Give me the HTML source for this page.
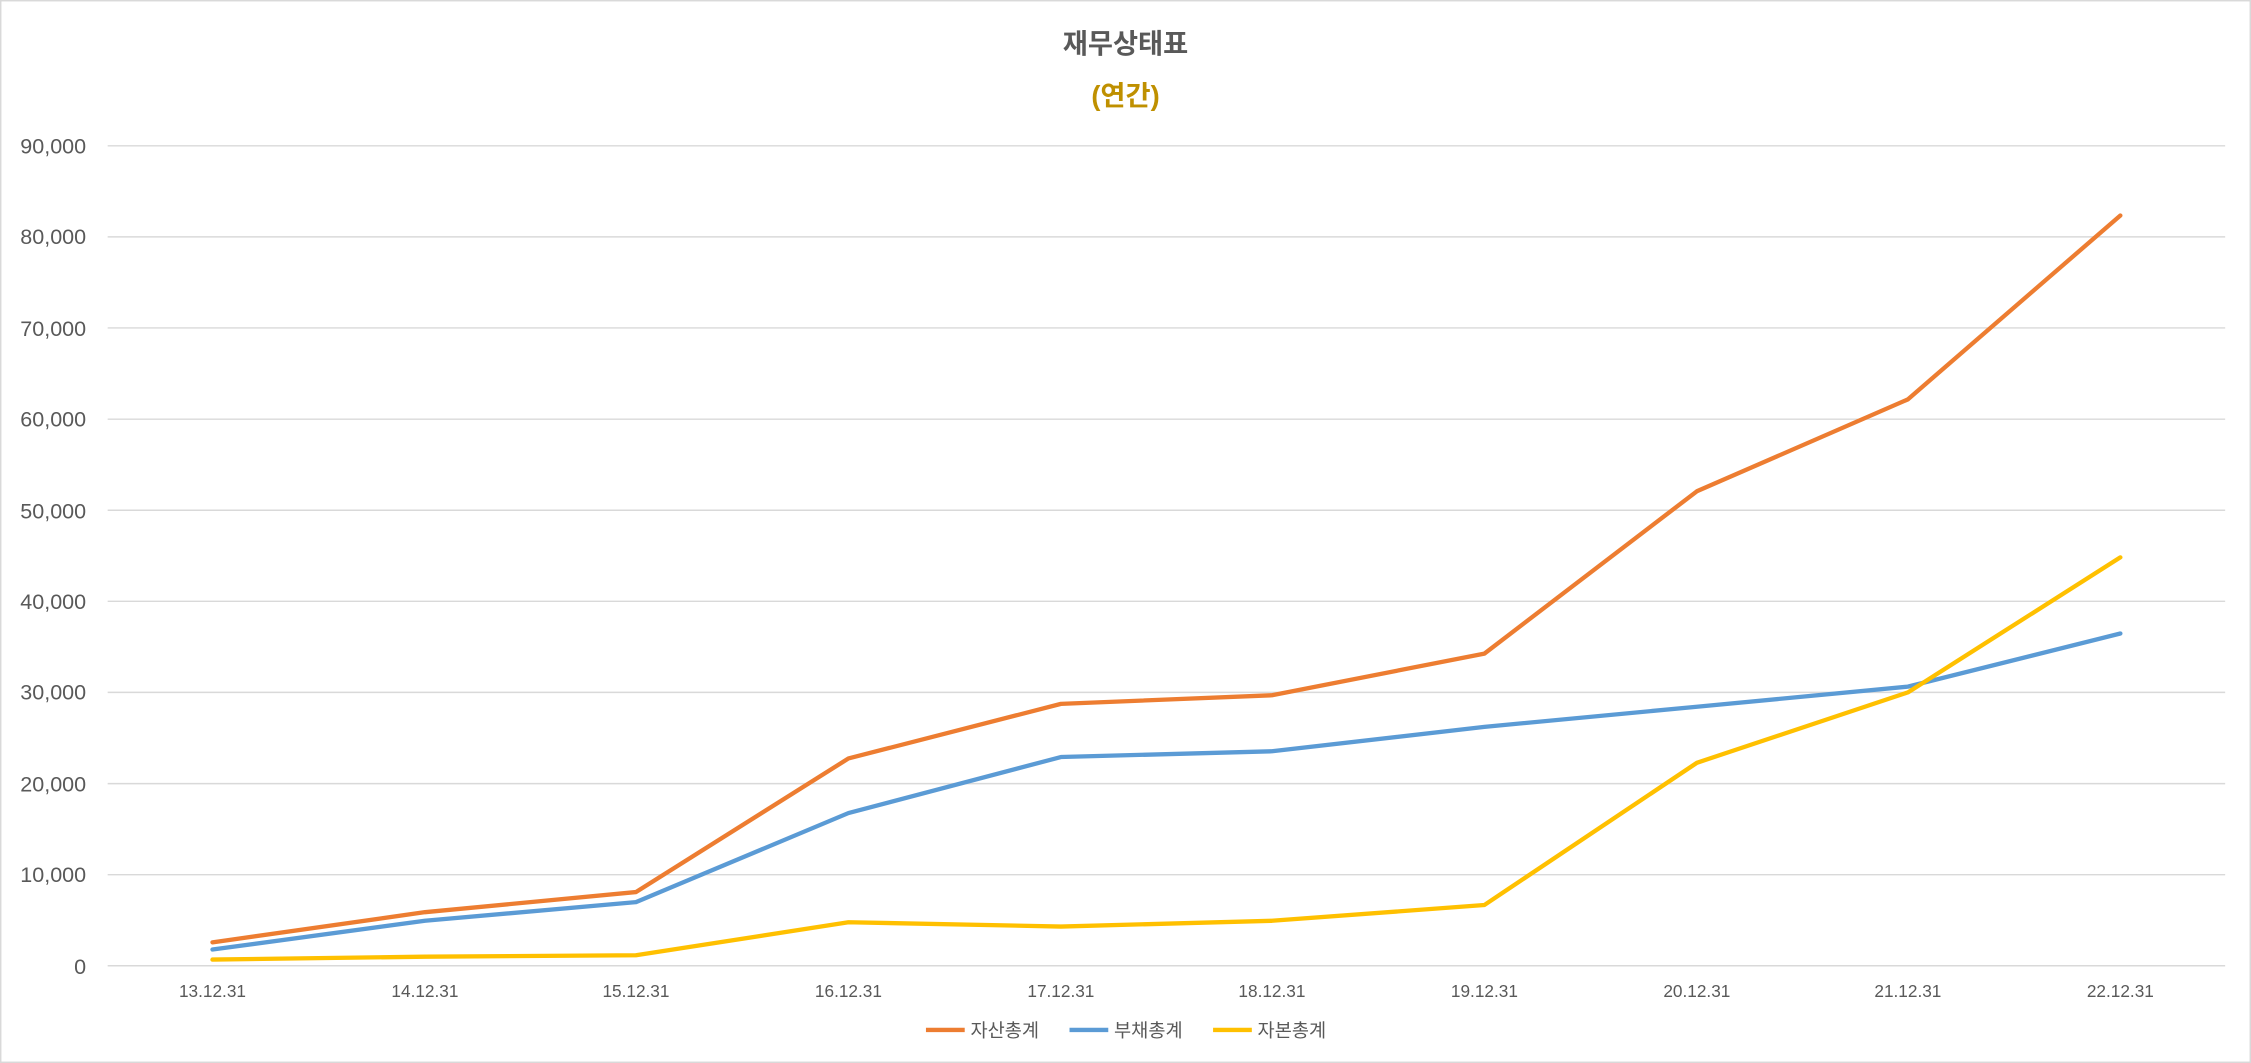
<!DOCTYPE html>
<html><head><meta charset="utf-8"><style>
html,body{margin:0;padding:0;background:#fff;}
svg{display:block;}
text{font-family:"Liberation Sans","Noto Sans CJK KR",sans-serif;}
</style></head><body>
<svg width="2251" height="1063" viewBox="0 0 1568 740" preserveAspectRatio="none" xmlns="http://www.w3.org/2000/svg">
<rect x="0.5" y="0.5" width="1567" height="739" fill="#fff" stroke="#d9d9d9"/>
<text x="784" y="37" text-anchor="middle" font-size="19" font-weight="bold" fill="#595959">재무상태표</text>
<text x="784" y="73" text-anchor="middle" font-size="19" font-weight="bold" fill="#bf9000">(연간)</text>
<g stroke="#d9d9d9" stroke-width="1">
<line x1="75" x2="1550" y1="101.5" y2="101.5"/>
<line x1="75" x2="1550" y1="164.9" y2="164.9"/>
<line x1="75" x2="1550" y1="228.3" y2="228.3"/>
<line x1="75" x2="1550" y1="291.8" y2="291.8"/>
<line x1="75" x2="1550" y1="355.2" y2="355.2"/>
<line x1="75" x2="1550" y1="418.6" y2="418.6"/>
<line x1="75" x2="1550" y1="482" y2="482"/>
<line x1="75" x2="1550" y1="545.5" y2="545.5"/>
<line x1="75" x2="1550" y1="608.9" y2="608.9"/>
<line x1="75" x2="1550" y1="672.3" y2="672.3"/>
</g>
<g font-size="15" fill="#595959" text-anchor="end">
<text x="60" y="107">90,000</text>
<text x="60" y="170">80,000</text>
<text x="60" y="234">70,000</text>
<text x="60" y="297">60,000</text>
<text x="60" y="361">50,000</text>
<text x="60" y="424">40,000</text>
<text x="60" y="487">30,000</text>
<text x="60" y="551">20,000</text>
<text x="60" y="614">10,000</text>
<text x="60" y="678">0</text>
</g>
<g font-size="12" fill="#595959" text-anchor="middle">
<text x="148" y="694">13.12.31</text>
<text x="296" y="694">14.12.31</text>
<text x="443" y="694">15.12.31</text>
<text x="591" y="694">16.12.31</text>
<text x="739" y="694">17.12.31</text>
<text x="886" y="694">18.12.31</text>
<text x="1034" y="694">19.12.31</text>
<text x="1182" y="694">20.12.31</text>
<text x="1329" y="694">21.12.31</text>
<text x="1477" y="694">22.12.31</text>
</g>
<g fill="none" stroke-width="3" stroke-linejoin="round" stroke-linecap="round">
<polyline stroke="#ed7d31" points="148,656 296,635 443,621 591,528 739,490 886,484 1034,455 1182,342 1329,278 1477,150"/>
<polyline stroke="#5b9bd5" points="148,661 296,641 443,628 591,566 739,527 886,523 1034,506 1182,492 1329,478 1477,441"/>
<polyline stroke="#ffc000" points="148,668 296,666 443,665 591,642 739,645 886,641 1034,630 1182,531 1329,482 1477,388"/>
</g>
<g font-size="13" fill="#595959">
<line x1="645" x2="672" y1="717" y2="717" stroke="#ed7d31" stroke-width="3"/>
<text x="676" y="722">자산총계</text>
<line x1="745" x2="772" y1="717" y2="717" stroke="#5b9bd5" stroke-width="3"/>
<text x="776" y="722">부채총계</text>
<line x1="845" x2="872" y1="717" y2="717" stroke="#ffc000" stroke-width="3"/>
<text x="876" y="722">자본총계</text>
</g>
</svg>
</body></html>
